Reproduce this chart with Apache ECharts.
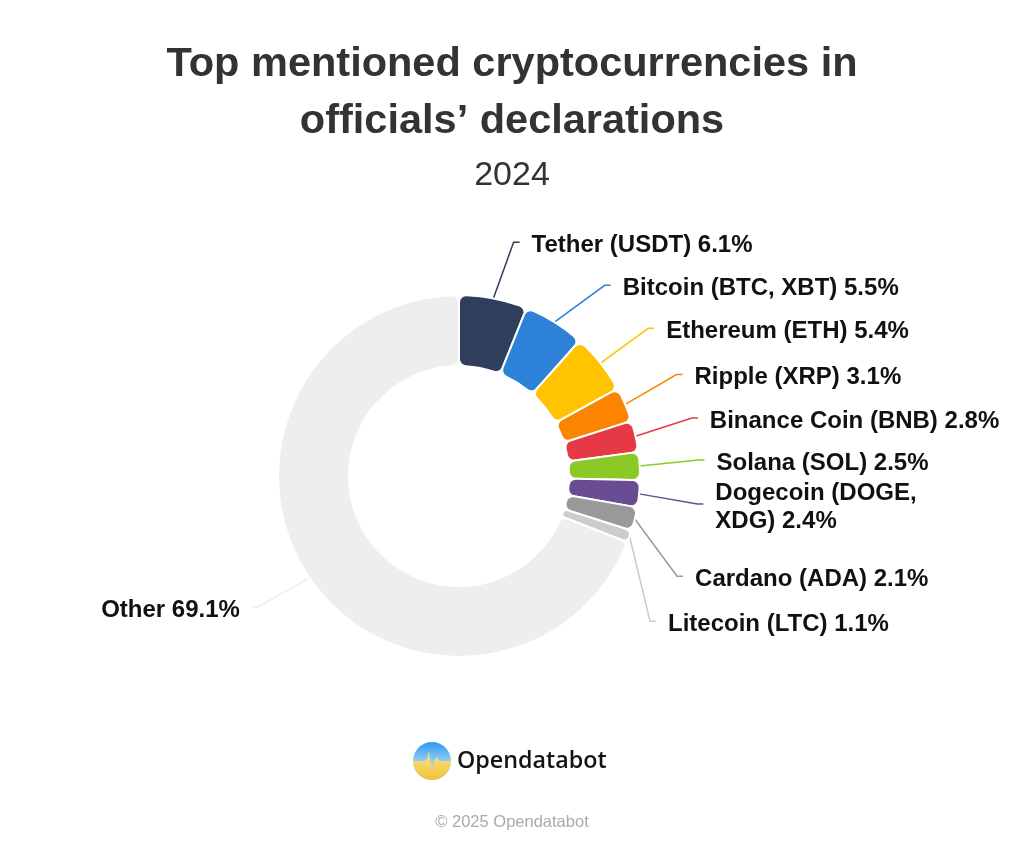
<!DOCTYPE html>
<html>
<head>
<meta charset="utf-8">
<script src="https://cdn.jsdelivr.net/npm/echarts@6/dist/echarts.min.js"></script>
<style>
  html, body { margin: 0; padding: 0; background: #ffffff; }
  #chart { width: 1024px; height: 853px; }
</style>
</head>
<body>
<div id="chart"></div>
<script>
// ---- data ----
const categories = ['Tether (USDT)', 'Bitcoin (BTC, XBT)', 'Ethereum (ETH)', 'Ripple (XRP)', 'Binance Coin (BNB)', 'Solana (SOL)', 'Dogecoin (DOGE, XDG)', 'Cardano (ADA)', 'Litecoin (LTC)', 'Other'];
const shares = [6.1, 5.5, 5.4, 3.1, 2.8, 2.5, 2.4, 2.1, 1.1, 69.1];
const sliceColors = ['#2e3e5c', '#2d82d8', '#ffc300', '#fb8500', '#e63946', '#8ac926', '#6a4c93', '#999999', '#cccccc', '#eeeeee'];
const titleText = 'Top mentioned cryptocurrencies in\nofficials\u2019 declarations';
const subtitleText = '2024';
const brandText = 'Opendatabot';
const copyrightText = '\u00a9 2025 Opendatabot';

// ---- layout / style ----
const FONT = '"Liberation Sans", Arial, Helvetica, sans-serif';
const CX = 459, CY = 476;
const LABEL_R = 240, SEG2 = 6, GAP = 12, LINE_DY = -3;
const DEFAULT_PAD = [6, 0, 7, 0];
const padOverrides = { 5: [0, 0, 0, 0], 6: [0, 0, 0, 0] };
const lineLenOverrides = { 3: 68, 4: 70, 7: 253, 8: 263, 9: 57 };
const wrapIndex = 6; // label that wraps onto two lines
function padFor(i) { return padOverrides[i] || DEFAULT_PAD; }

const pieData = categories.map(function (name, i) {
  const item = { name: name, value: shares[i], itemStyle: { color: sliceColors[i] },
    label: { padding: padFor(i) } };
  if (lineLenOverrides[i]) item.labelLine = { length: lineLenOverrides[i] };
  return item;
});

// logo graphics
const LX = 432, LY = 761, LR = 19;
const pulse = [[-19, 0], [-7, 0], [-5, -2], [-3, -10], [-2, -1], [0, 5], [1, 4], [3, -2], [5, -4], [7, 0], [19, 0]];
const yellowPts = pulse.map(function (p) { return [LX + p[0], LY + p[1]]; });
for (let a = 0; a <= 180; a += 6) {
  const rad = a * Math.PI / 180;
  yellowPts.push([LX + LR * Math.cos(rad), LY + LR * Math.sin(rad)]);
}

const chart = echarts.init(document.getElementById('chart'), null, { renderer: 'canvas' });
chart.setOption({
  animation: false,
  backgroundColor: '#ffffff',
  title: [
    { text: titleText, left: 'center', top: 31,
      textStyle: { fontFamily: FONT, fontSize: 41.5, fontWeight: 'bold', color: '#333333', lineHeight: 57 } },
    { text: subtitleText, left: 'center', top: 151,
      textStyle: { fontFamily: FONT, fontSize: 34, fontWeight: 'normal', color: '#333333', lineHeight: 40 } }
  ],
  graphic: [
    { type: 'circle', shape: { cx: LX, cy: LY, r: LR },
      style: { fill: new echarts.graphic.LinearGradient(0, 0, 0, 1, [
        { offset: 0, color: '#2f98ee' }, { offset: 0.5, color: '#8fcdf5' }, { offset: 1, color: '#8fcdf5' }]) } },
    { type: 'polygon', shape: { points: yellowPts },
      style: { fill: new echarts.graphic.LinearGradient(0, 0, 0, 1, [
        { offset: 0, color: '#fbe48c' }, { offset: 1, color: '#f2c13a' }]) } },
    { type: 'text', x: 457, y: LY, style: { text: brandText, fontFamily: '"Open Sans", sans-serif', fontWeight: 600,
      fontSize: 23.3, fill: '#141414', verticalAlign: 'middle', align: 'left' } },
    { type: 'text', x: 512, y: 822, style: { text: copyrightText, fontFamily: FONT, fontSize: 16.5,
      fill: '#aaaaaa', verticalAlign: 'middle', align: 'center' } }
  ],
  series: [{
    type: 'pie',
    center: [CX, CY],
    radius: [110, 181],
    startAngle: 90,
    clockwise: true,
    avoidLabelOverlap: true,
    emphasis: { disabled: true },
    itemStyle: { borderColor: '#ffffff', borderWidth: 2, borderRadius: 7 },
    label: {
      show: true, position: 'outer', alignTo: 'none', overflow: 'none',
      formatter: function (p) {
        const nm = p.dataIndex === wrapIndex ? p.name.replace(', ', ',\n') : p.name;
        return nm + ' ' + p.value + '%';
      },
      fontFamily: FONT, fontSize: 24, fontWeight: 'bold', color: '#111111', lineHeight: 28,
      distanceToLabelLine: GAP
    },
    labelLine: { show: true, length: 54, length2: SEG2, smooth: false, lineStyle: { width: 1.5 } },
    labelLayout: function (p) {
      const pts = p.labelLinePoints;
      if (!pts) return {};
      const r = p.labelRect;
      const ly = r.y + r.height / 2 + LINE_DY;
      const side = pts[0][0] >= CX ? 1 : -1;
      const dy = ly - CY;
      const dx = Math.sqrt(Math.max(LABEL_R * LABEL_R - dy * dy, 0));
      const cornerX = CX + side * dx;
      const endX = cornerX + side * SEG2;
      return {
        x: endX + side * GAP,
        labelLinePoints: [[pts[0][0], pts[0][1]], [cornerX, ly], [endX, ly]]
      };
    },
    data: pieData
  }]
});
</script>
</body>
</html>
